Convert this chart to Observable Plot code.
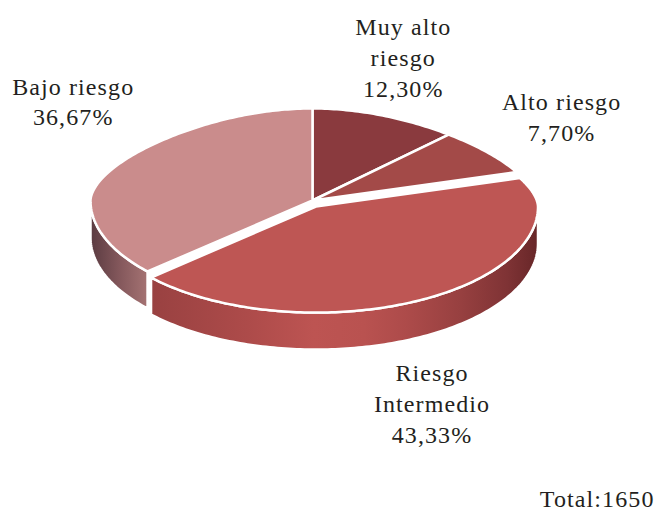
<!DOCTYPE html>
<html><head><meta charset="utf-8">
<script src="https://cdn.jsdelivr.net/npm/d3@7"></script>
<script src="https://cdn.jsdelivr.net/npm/@observablehq/plot@0.6"></script>
<style>
body{margin:0;background:#fff}
#chart svg text{letter-spacing:1.1px}
</style>
</head><body><div id="chart"></div>
<script>
// ---- data ----
const categories = ["Muy alto riesgo", "Alto riesgo", "Riesgo Intermedio", "Bajo riesgo"];
const percents = [12.30, 7.70, 43.33, 36.67];
const labelTexts = ["Muy alto\nriesgo\n12,30%", "Alto riesgo\n7,70%", "Riesgo\nIntermedio\n43,33%", "Bajo riesgo\n36,67%"];
const totalLabel = "Total:1650";
const exploded = [false, false, true, false];

// ---- style / layout ----
const W = 657, H = 510;
const topColors = ["#8a3a3e", "#a34a48", "#be5654", "#ca8c8c"];
const sideGradients = [
  [[0, "#6a2a2c"], [1, "#8a3a3e"]],
  [[0, "#7a3333"], [1, "#a34a48"]],
  [[0, "#994141"], [0.25, "#ad4b4a"], [0.42, "#bd5452"], [0.55, "#b95250"], [0.66, "#ad4b4a"], [0.8, "#974040"], [0.92, "#7f3335"], [1, "#672628"]],
  [[0, "#5a3b41"], [0.5, "#83575b"], [1, "#a57373"]]
];
const labelNudge = [[22, -59], [75, -36], [5, 67], [-47, -63]];
const G = {cx: 312, cy: 200, rx: 222, ryBack: 92, ryFront: 106, backSqueeze: 0.2, depth: 37, explode: 7};
const FONT = "Liberation Serif";
const FONT_SIZE = 24;

function ry(t) { return Math.cos(t) > 0 ? G.ryBack : G.ryFront; }
function sx(t) { const c = Math.cos(t); return c > 0 ? 1 - G.backSqueeze * Math.pow(c, 1.5) : 1; }
function proj(t, r, z, off) {
  return {x: G.cx + off.x + G.rx * r * Math.sin(t) * sx(t), y: G.cy + off.y - ry(t) * r * Math.cos(t) + z};
}
function arc(a, b, z, off) {
  const n = Math.max(2, Math.ceil((b - a) / (Math.PI / 180)));
  const pts = [];
  for (let i = 0; i <= n; i++) pts.push(proj(a + (b - a) * i / n, 1, z, off));
  return pts;
}

const sum = d3.sum(percents);
let cum = 0;
const slices = percents.map((p, i) => {
  const a = 2 * Math.PI * cum / sum; cum += p;
  const b = 2 * Math.PI * cum / sum;
  const m = (a + b) / 2;
  const off = exploded[i] ? {x: G.explode * Math.sin(m), y: -G.explode * Math.cos(m)} : {x: 0, y: 0};
  const center = {x: G.cx + off.x, y: G.cy + off.y};
  const top = [center, ...arc(a, b, 0, off)];
  const s = Math.max(a, Math.PI / 2), e = Math.min(b, 3 * Math.PI / 2);
  const side = s < e ? [...arc(s, e, 0, off), ...arc(s, e, G.depth, off).reverse()] : null;
  const rim = proj(m, 1, Math.cos(m) < 0 ? G.depth : 0, off);
  return {i, name: categories[i], a, b, m, off, top, side, label: labelTexts[i],
          lx: rim.x + labelNudge[i][0], ly: rim.y + labelNudge[i][1]};
});

const order = [...slices.filter(s => !exploded[s.i]), ...slices.filter(s => exploded[s.i])];
const marks = [];
for (const s of order) {
  if (s.side) marks.push(Plot.line(s.side, {x: "x", y: "y", curve: "linear-closed", fill: `url(#side${s.i})`, stroke: "white", strokeWidth: 2.5, strokeLinejoin: "round"}));
  marks.push(Plot.line(s.top, {x: "x", y: "y", curve: "linear-closed", fill: topColors[s.i], stroke: "white", strokeWidth: 2.5, strokeLinejoin: "round"}));
}
marks.push(Plot.text(slices, {x: "lx", y: "ly", text: "label", fontFamily: FONT, fontSize: FONT_SIZE, lineHeight: 1.28, fill: "#231f20"}));
marks.push(Plot.text([totalLabel], {frameAnchor: "bottom-right", text: d => d, textAnchor: "end", lineAnchor: "bottom", dx: -3, dy: -4, fontFamily: FONT, fontSize: FONT_SIZE, fill: "#231f20"}));

const svg = Plot.plot({
  width: W, height: H, margin: 0,
  style: {fontFamily: FONT},
  x: {domain: [0, W], range: [0, W], axis: null},
  y: {domain: [0, H], range: [0, H], axis: null},
  marks
});
const defs = d3.select(svg).insert("defs", ":first-child");
sideGradients.forEach((stops, i) => {
  const g = defs.append("linearGradient").attr("id", `side${i}`).attr("x1", 0).attr("x2", 1).attr("y1", 0).attr("y2", 0);
  stops.forEach(([o, c]) => g.append("stop").attr("offset", o).attr("stop-color", c));
});
document.getElementById("chart").appendChild(svg);
</script>
</body></html>
